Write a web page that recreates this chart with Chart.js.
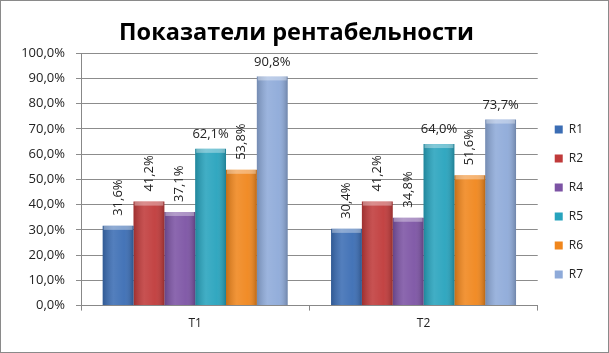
<!DOCTYPE html>
<html>
<head>
<meta charset="utf-8">
<script src="https://cdn.jsdelivr.net/npm/chart.js@4.4.0/dist/chart.umd.min.js"></script>
<style>
	html, body { margin: 0; padding: 0; background: #fff; }
	#wrap { width: 609px; height: 353px; position: relative; }
</style>
</head>
<body>
<div id="wrap"><canvas id="profitChart" width="609" height="353"></canvas></div>
<script>
const categories = ['T1', 'T2'];
const seriesNames = ['R1', 'R2', 'R4', 'R5', 'R6', 'R7'];
const r1 = [31.6, 30.4];
const r2 = [41.2, 41.2];
const r4 = [37.1, 34.8];
const r5 = [62.1, 64.0];
const r6 = [53.8, 51.6];
const r7 = [90.8, 73.7];
const seriesValues = [r1, r2, r4, r5, r6, r7];
const seriesColors = ['#3b6db4', '#c03a3a', '#7c53a4', '#27a3bd', '#f0861c', '#8eaad9'];
// labels drawn upright (others rotated 90deg)
const flatLabels = ['R5', 'R7'];

const fmt = (v) => `${Number(v).toFixed(1).replace('.', ',')}%`;
const FONT = '"Open Sans", sans-serif';

// frame around the whole chart
const framePlugin = {
	id: 'frame',
	afterDraw(chart) {
		const ctx = chart.ctx;
		ctx.save();
		ctx.strokeStyle = '#8a8a8a';
		ctx.lineWidth = 1;
		ctx.strokeRect(0.5, 0.5, chart.width - 1, chart.height - 1);
		ctx.restore();
	},
};

// soft shine on bars + value labels
const barLabelPlugin = {
	id: 'barLabels',
	afterDatasetsDraw(chart) {
		const ctx = chart.ctx;
		chart.data.datasets.forEach((ds, di) => {
			const meta = chart.getDatasetMeta(di);
			meta.data.forEach((bar, i) => {
				const { x, y, width, base } = bar.getProps(['x', 'y', 'width', 'base'], true);
				const left = x - width / 2;
				ctx.save();
				const g = ctx.createLinearGradient(left, 0, left + width, 0);
				g.addColorStop(0, 'rgba(0,0,0,0.18)');
				g.addColorStop(0.35, 'rgba(255,255,255,0.12)');
				g.addColorStop(0.7, 'rgba(255,255,255,0.05)');
				g.addColorStop(1, 'rgba(0,0,0,0.22)');
				ctx.fillStyle = g;
				ctx.fillRect(left, y, width, base - y);
				ctx.fillStyle = 'rgba(255,255,255,0.35)';
				ctx.fillRect(left + 1, y, width - 2, 4);
				ctx.restore();

				const text = fmt(ds.data[i]);
				ctx.save();
				ctx.fillStyle = '#222';
				ctx.font = `13px ${FONT}`;
				if (flatLabels.includes(ds.label)) {
					ctx.textAlign = 'center';
					ctx.textBaseline = 'bottom';
					ctx.fillText(text, x, y - 8);
				} else {
					ctx.translate(x, y - 10);
					ctx.rotate(-Math.PI / 2);
					ctx.textAlign = 'left';
					ctx.textBaseline = 'middle';
					ctx.fillText(text, 0, 0);
				}
				ctx.restore();
			});
		});
	},
};

const ctx = document.getElementById('profitChart').getContext('2d');
new Chart(ctx, {
	type: 'bar',
	data: {
		labels: categories,
		datasets: seriesNames.map((name, k) => ({
			label: name,
			data: seriesValues[k],
			backgroundColor: seriesColors[k],
			borderWidth: 0,
			categoryPercentage: 0.81,
			barPercentage: 1,
		})),
	},
	options: {
		responsive: false,
		animation: false,
		layout: {
			padding: { left: 0, right: 16, top: 0, bottom: 16 },
		},
		plugins: {
			title: {
				display: true,
				text: 'Показатели рентабельности',
				color: '#000',
				font: { family: FONT, size: 23.5, weight: 'bold' },
				padding: { top: 19, bottom: 6 },
			},
			legend: {
				position: 'right',
				title: {
					display: true,
					text: ' ',
					padding: { top: 54, bottom: 0 },
					font: { size: 11 },
				},
				labels: {
					boxWidth: 8,
					boxHeight: 8,
					padding: 17,
					color: '#222',
					font: { family: FONT, size: 12 },
				},
			},
			tooltip: { enabled: false },
		},
		scales: {
			x: {
				grid: {
					display: true,
					drawOnChartArea: false,
					offset: true,
					color: '#888',
					tickLength: 5,
				},
				border: { color: '#888' },
				ticks: {
					color: '#222',
					padding: 6,
					font: { family: FONT, size: 12 },
				},
			},
			y: {
				min: 0,
				max: 100,
				afterFit: (scale) => { scale.width = 81; },
				grid: {
					color: '#8c8c8c',
					tickLength: 5,
				},
				border: { color: '#888' },
				ticks: {
					stepSize: 10,
					color: '#222',
					padding: 11,
					font: { family: FONT, size: 13 },
					callback: (v) => fmt(v),
				},
			},
		},
	},
	plugins: [framePlugin, barLabelPlugin],
});
</script>
</body>
</html>
